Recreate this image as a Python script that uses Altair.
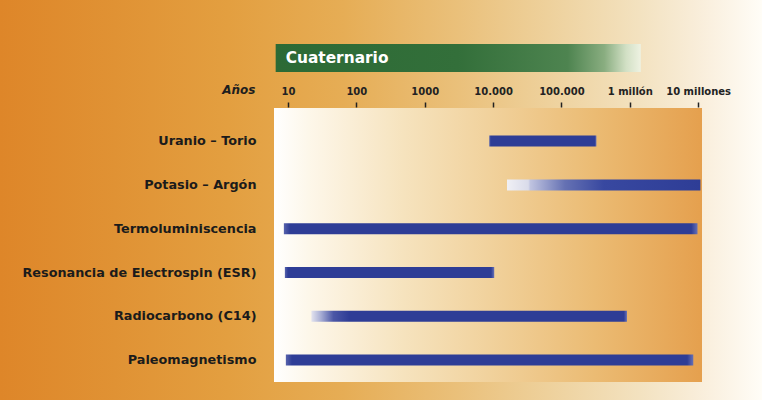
import altair as alt
import pandas as pd

# ---- data ----
methods = [
    "Uranio – Torio",
    "Potasio – Argón",
    "Termoluminiscencia",
    "Resonancia de Electrospin (ESR)",
    "Radiocarbono (C14)",
    "Paleomagnetismo",
]
start_years = [8800, 16000, 8.7, 9, 22, 9.3]
end_years = [325000, 10800000, 9800000, 10400, 910000, 8500000]
fade_style = ["ends", "left", "ends", "ends", "left_short", "ends"]

tick_values = [10, 100, 1000, 10000, 100000, 1000000, 10000000]
tick_labels = ["10", "100", "1000", "10.000", "100.000", "1 millón", "10 millones"]

period_name = ["Cuaternario"]
period_start = [6.6]
period_end = [1450000]

axis_title = "Años"

# ---- tables ----
bars = pd.DataFrame({"method": methods, "start": start_years,
                     "end": end_years, "fade": fade_style})
period = pd.DataFrame({"name": period_name, "start": period_start, "end": period_end})
one = pd.DataFrame({"k": [0]})

W, H = 428, 274
PAD_L, PAD_T = 274, 108
FONT = "DejaVu Sans"
BLUE = "#2E3D96"


def grad(stops):
    return alt.LinearGradient(
        gradient="linear", x1=0, x2=1, y1=0, y2=0,
        stops=[alt.GradientStop(offset=o, color=c) for o, c in stops],
    )


outer_grad = grad([(0, "#DE8629"), (0.15, "#E09234"), (0.3, "#E39F40"),
                   (0.45, "#E6AD55"), (0.6, "#EAC07A"), (0.72, "#EED19C"),
                   (0.84, "#F3E2C0"), (0.92, "#F9EEDB"), (1, "#FFFDF7")])
plot_grad = grad([(0, "#FFFFFF"), (0.08, "#FDF7EA"), (0.3, "#F6E3BE"),
                  (0.5, "#F1D29D"), (0.75, "#EBBB73"), (1, "#E5A04E")])
green_grad = grad([(0, "#2C6A35"), (0.5, "#336F3A"), (0.8, "#4E8450"),
                   (0.9, "#89AD80"), (0.96, "#D2E0C5"), (1, "#EEF2E2")])
ends_grad = grad([(0, "#5763AC"), (0.015, BLUE), (0.985, BLUE), (1, "#6670B5")])
left_grad = grad([(0, "#F0F0F5"), (0.11, "#D9DBEA"), (0.12, "#C0C4E0"),
                  (0.3, "#6571B3"), (0.5, "#3848A0"), (1, BLUE)])
left_short_grad = grad([(0, "#E3E3EE"), (0.03, "#A8AED4"), (0.07, "#4B57A6"),
                        (0.12, BLUE), (0.99, BLUE), (1, "#6670B5")])

label_expr = "[" + ",".join("'%s'" % t for t in tick_labels) + "][indexof([" + \
    ",".join(str(v) for v in tick_values) + "], datum.value)]"

x_scale = alt.Scale(type="log", domain=[6.24, 11400000], nice=False)
y_scale = alt.Scale(domain=methods, paddingInner=0, paddingOuter=0.128, align=1)

x_axis = alt.Axis(
    orient="top", values=tick_values, labelExpr=label_expr,
    title=axis_title, titleX=-19, titleY=-18, titleAlign="right",
    titleBaseline="middle", titleAngle=0, titleFont=FONT, titleFontSize=12,
    titleFontStyle="italic", titleFontWeight="bold", titleColor="#1e1e1e",
    labelFont=FONT, labelFontSize=10, labelFontWeight="bold", labelColor="#222222",
    labelPadding=6, tickSize=5, tickWidth=1.5, tickColor="#222222",
    domain=False, grid=False, offset=1, zindex=1, labelFlush=False,
    labelOverlap=False,
)
y_axis = alt.Axis(
    title=None, labelFont=FONT, labelFontSize=12.8, labelFontWeight="bold",
    labelColor="#1b1b1b", labelPadding=18, ticks=False, domain=False,
    grid=False, zindex=1, labelLimit=400,
)

x_enc = alt.X("start:Q", scale=x_scale, axis=x_axis)
y_enc = alt.Y("method:N", scale=y_scale, axis=y_axis, sort=methods)

outer_bg = alt.Chart(one).mark_rect(fill=outer_grad).encode(
    x=alt.value(-PAD_L), x2=alt.value(762 - PAD_L),
    y=alt.value(-PAD_T), y2=alt.value(400 - PAD_T))
plot_bg = alt.Chart(one).mark_rect(fill=plot_grad).encode(
    x=alt.value(0), x2=alt.value(W), y=alt.value(0), y2=alt.value(H))

period_bar = alt.Chart(period).mark_rect(fill=green_grad).encode(
    x=alt.X("start:Q", scale=x_scale, axis=x_axis), x2="end:Q",
    y=alt.value(-64), y2=alt.value(-36))
period_text = alt.Chart(period).mark_text(
    align="left", baseline="middle", dx=10, font=FONT, fontSize=15.4,
    fontWeight="bold", color="#FFFFFF").encode(
    x=alt.X("start:Q", scale=x_scale, axis=x_axis), y=alt.value(-50), text="name:N")


def bar_layer(style, fill):
    return alt.Chart(bars).transform_filter(
        alt.datum.fade == style).mark_bar(size=11, fill=fill).encode(
        x=x_enc, x2="end:Q", y=y_enc)


chart = alt.layer(
    outer_bg, plot_bg, period_bar, period_text,
    bar_layer("ends", ends_grad),
    bar_layer("left", left_grad),
    bar_layer("left_short", left_short_grad),
).properties(
    width=W, height=H,
    autosize=alt.AutoSizeParams(type="none"),
    padding={"left": PAD_L, "top": PAD_T, "right": 762 - PAD_L - W, "bottom": 400 - PAD_T - H},
).configure_view(strokeWidth=0)

chart.save("out.html", embed_options={"renderer": "svg", "actions": False})
